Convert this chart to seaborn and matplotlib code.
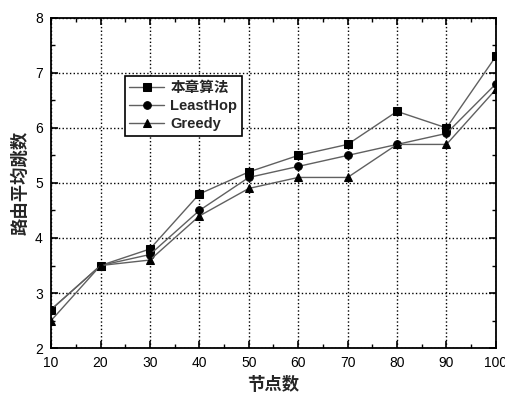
import numpy as np
import pandas as pd
import matplotlib
matplotlib.use('Agg')
import matplotlib.pyplot as plt
import seaborn as sns

# 数据
nodes = [10, 20, 30, 40, 50, 60, 70, 80, 90, 100]
ours = [2.7, 3.5, 3.8, 4.8, 5.2, 5.5, 5.7, 6.3, 6.0, 7.3]
least_hop = [2.7, 3.5, 3.7, 4.5, 5.1, 5.3, 5.5, 5.7, 5.9, 6.8]
greedy = [2.5, 3.5, 3.6, 4.4, 4.9, 5.1, 5.1, 5.7, 5.7, 6.7]
series_names = ['本章算法', 'LeastHop', 'Greedy']

sns.set_style('ticks')
plt.rcParams['font.family'] = ['Liberation Sans', 'Noto Sans CJK SC', 'DejaVu Sans']

df = pd.DataFrame({'nodes': nodes * 3,
                   'hops': ours + least_hop + greedy,
                   'alg': sum([[n] * len(nodes) for n in series_names], [])})

fig = plt.figure(figsize=(5.06, 3.96), dpi=100)
ax = fig.add_axes([0.101, 0.121, 0.879, 0.834])

markers = {'本章算法': 's', 'LeastHop': 'o', 'Greedy': '^'}
for name in series_names:
    sub = df[df['alg'] == name]
    sns.lineplot(data=sub, x='nodes', y='hops', ax=ax, color='#606060',
                 marker=markers[name], markersize=5.5, markerfacecolor='black',
                 markeredgecolor='black', linewidth=1.0, label=name)

ax.set_xlim(10, 100)
ax.set_ylim(2, 8)
ax.set_xticks(range(10, 101, 10))
ax.set_xticks(range(15, 100, 10), minor=True)
ax.set_yticks(range(2, 9))
ax.set_yticks(np.arange(2.5, 8, 1), minor=True)
ax.grid(True, which='major', linestyle=':', color='black', linewidth=1.0)

for s in ax.spines.values():
    s.set_visible(True)
    s.set_linewidth(1.3)
    s.set_color('black')
ax.tick_params(which='both', direction='in', top=True, right=True,
               labelsize=10, colors='black', pad=6)
ax.tick_params(which='major', length=5, width=1.2)
ax.tick_params(which='minor', length=3, width=1.0)

ax.set_xlabel('节点数', fontsize=12.5, weight='bold', labelpad=4,
              family=['Noto Sans CJK SC', 'DejaVu Sans'])
ax.set_ylabel('路由平均跳数', fontsize=12.5, weight='bold', labelpad=4,
              family=['Noto Sans CJK SC', 'DejaVu Sans'])

leg = ax.legend(loc='upper left', bbox_to_anchor=(0.15, 0.845), fancybox=False,
                frameon=True, edgecolor='black', framealpha=1, borderpad=0.3,
                labelspacing=0.3, handlelength=2.4, handletextpad=0.4,
                prop={'family': ['Liberation Sans', 'Noto Sans CJK SC'],
                      'weight': 'bold', 'size': 10.5})
leg.get_frame().set_linewidth(1.2)

fig.savefig('out.png', dpi=100)
